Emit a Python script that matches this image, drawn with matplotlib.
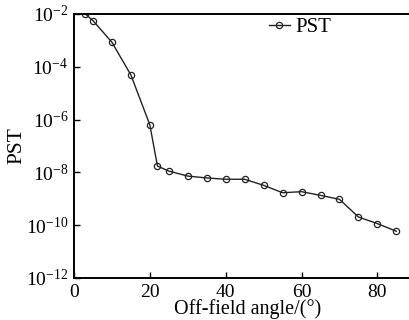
import matplotlib
matplotlib.use("Agg")
import matplotlib.pyplot as plt
import numpy as np

angles = [3, 5, 10, 15, 20, 22, 25, 30, 35, 40, 45, 50, 55, 60, 65, 70, 75, 80, 85]
log_pst = [-2.0, -2.25, -3.07, -4.31, -6.2, -7.76, -7.95, -8.14, -8.21, -8.26, -8.26,
           -8.49, -8.77, -8.73, -8.87, -9.02, -9.69, -9.94, -10.23]
pst = [10 ** v for v in log_pst]
yticks = [1e-2, 1e-4, 1e-6, 1e-8, 1e-10, 1e-12]
xticks = [0, 20, 40, 60, 80]

plt.rcParams['font.family'] = ['Liberation Serif', 'DejaVu Serif']
plt.rcParams['mathtext.fontset'] = 'stix'

fig = plt.figure(figsize=(4.09, 3.2), dpi=100)
ax = fig.add_axes([74/409, 42/320, 347/409, 264/320])
ax.plot(angles, pst, color='#222222', lw=1.0, marker='o', markersize=4.5,
        markerfacecolor='none', markeredgecolor='#222222', markeredgewidth=0.9, label='PST')
ax.set_yscale('log')
ax.set_xlim(0, 91.5)
ax.set_ylim(1e-12, 1e-2)
ax.set_xticks(xticks)
ax.set_yticks(yticks)
ax.minorticks_off()
ax.yaxis.set_minor_locator(matplotlib.ticker.NullLocator())
ax.tick_params(direction='in', length=4, width=1, labelsize=14, pad=4)
for s in ax.spines.values():
    s.set_linewidth(1.4)
ax.spines['right'].set_visible(False)
ax.set_xlabel('Off-field angle/(°)', fontsize=14.5, labelpad=-1)
ax.set_ylabel('PST', fontsize=15.5, labelpad=0)
ax.legend(loc='upper left', bbox_to_anchor=(0.525, 1.035), frameon=False, fontsize=15,
          handlelength=1.0, handletextpad=0.3, borderaxespad=0.2)
fig.savefig('out.png', dpi=100)
